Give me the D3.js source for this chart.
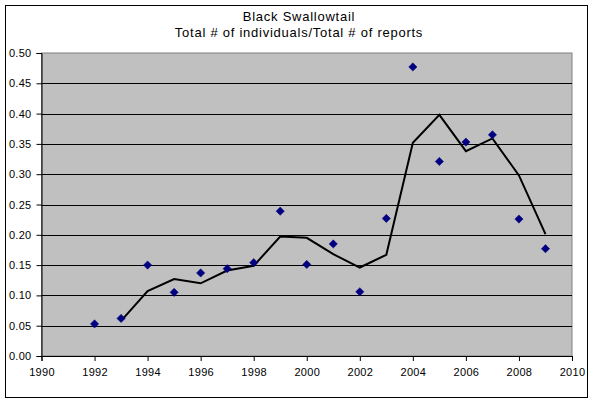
<!DOCTYPE html>
<html><head><meta charset="utf-8">
<script src="https://cdn.jsdelivr.net/npm/d3@7"></script>
<style>
html,body{margin:0;padding:0;background:#fff;}
svg{display:block;}
text{font-family:"Liberation Sans",Arial,sans-serif;fill:#000;}
</style></head><body>
<svg id="chart" width="594" height="403"></svg>
<script>
const titleLines = ["Black Swallowtail", "Total # of individuals/Total # of reports"];
const years = [1992,1993,1994,1995,1996,1997,1998,1999,2000,2001,2002,2003,2004,2005,2006,2007,2008,2009];
const values = [0.053,0.062,0.150,0.105,0.137,0.144,0.154,0.239,0.151,0.185,0.106,0.227,0.477,0.321,0.353,0.365,0.226,0.177];
const trendYears = [1993,1994,1995,1996,1997,1998,1999,2000,2001,2002,2003,2004,2005,2006,2007,2008,2009];
const trendValues = [0.058,0.107,0.127,0.120,0.141,0.149,0.197,0.195,0.168,0.146,0.167,0.352,0.398,0.338,0.359,0.298,0.201];
const xTicks = [1990,1992,1994,1996,1998,2000,2002,2004,2006,2008,2010];
const yTicks = [0,0.05,0.10,0.15,0.20,0.25,0.30,0.35,0.40,0.45,0.50];

const svg = d3.select("#chart");
const L = 41.5, R = 572, T = 53, B = 356;
const x = d3.scaleLinear().domain([1990,2010]).range([L,R]);
const y = d3.scaleLinear().domain([0,0.5]).range([B,T]);

// outer border
svg.append("rect").attr("x",5.5).attr("y",5.5).attr("width",582).attr("height",392)
  .attr("fill","#fff").attr("stroke","#000").attr("stroke-width",1);

// title
svg.selectAll(".title").data(titleLines).enter().append("text")
  .attr("x",299).attr("y",(d,i)=>21+i*16).attr("text-anchor","middle")
  .style("font-size","13px").style("letter-spacing","0.75px").text(d=>d);

// plot area
svg.append("rect").attr("x",L).attr("y",T).attr("width",R-L).attr("height",B-T)
  .attr("fill","#C0C0C0").attr("stroke","#808080").attr("stroke-width",1);

// gridlines
svg.append("g").selectAll("line").data(yTicks.filter(v=>v>0 && v<0.5)).enter().append("line")
  .attr("x1",L).attr("x2",R).attr("y1",d=>Math.round(y(d))+0.5).attr("y2",d=>Math.round(y(d))+0.5)
  .attr("stroke","#000").attr("stroke-width",1);

// y axis
const yAxis = d3.axisLeft(y).tickValues(yTicks).tickFormat(d3.format(".2f")).tickSize(5).tickPadding(5);
const gy = svg.append("g").attr("transform",`translate(${L},0)`).call(yAxis);
gy.select(".domain").attr("stroke","#000");
gy.selectAll("text").style("font-size","11px").style("letter-spacing","0.3px").attr("font-family","Liberation Sans, Arial, sans-serif");

// x axis
const xAxis = d3.axisBottom(x).tickValues(xTicks).tickFormat(d3.format("d")).tickSize(5).tickPadding(7);
const gx = svg.append("g").attr("transform",`translate(0,${B})`).call(xAxis);
gx.select(".domain").attr("stroke","#000");
gx.selectAll("text").style("font-size","11px").style("letter-spacing","0.3px").attr("font-family","Liberation Sans, Arial, sans-serif");

// trend line
const line = d3.line().x((d,i)=>x(trendYears[i])).y(d=>y(d));
svg.append("path").datum(trendValues).attr("d",line)
  .attr("fill","none").attr("stroke","#000").attr("stroke-width",2).attr("stroke-linejoin","miter");

// diamonds
const sym = d3.symbol().type(d3.symbolSquare).size(34);
svg.append("g").selectAll("path").data(values).enter().append("path")
  .attr("d",sym)
  .attr("transform",(d,i)=>`translate(${x(years[i])},${y(d)}) rotate(45)`)
  .attr("fill","#000080").attr("stroke","#000080").attr("stroke-width",0.5);
</script>
</body></html>
